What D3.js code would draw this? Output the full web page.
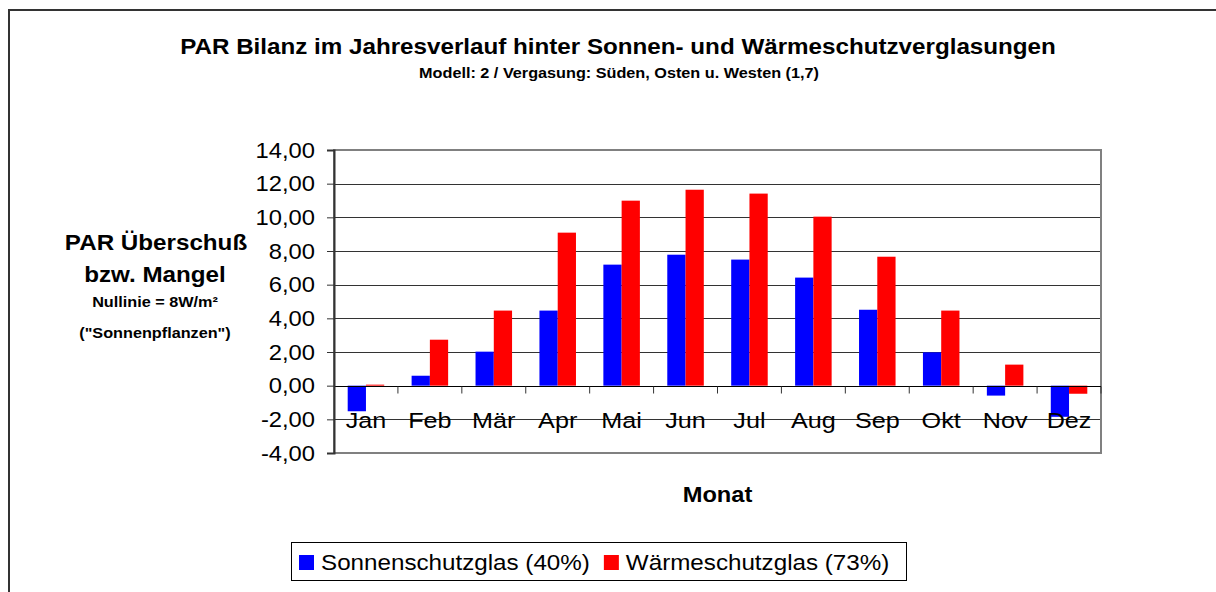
<!DOCTYPE html>
<html><head><meta charset="utf-8">
<script src="https://cdn.jsdelivr.net/npm/d3@7"></script>
<style>
html,body{margin:0;padding:0;background:#fff;overflow:hidden}
svg{display:block}
text{font-family:"Liberation Sans",Arial,Helvetica,sans-serif;fill:#000}
</style></head>
<body>
<svg id="c" width="1216" height="592"></svg>
<script>
const months = ["Jan","Feb","Mär","Apr","Mai","Jun","Jul","Aug","Sep","Okt","Nov","Dez"];
const seriesNames = ["Sonnenschutzglas (40%)","Wärmeschutzglas (73%)"];
const sonnenschutz = [-1.52, 0.59, 2.02, 4.46, 7.19, 7.78, 7.49, 6.42, 4.51, 1.98, -0.59, -1.85];
const waermeschutz = [0.06, 2.73, 4.46, 9.09, 10.99, 11.64, 11.41, 10.04, 7.66, 4.46, 1.25, -0.48];
const yTicks = [-4,-2,0,2,4,6,8,10,12,14];
const title = "PAR Bilanz im Jahresverlauf hinter Sonnen- und Wärmeschutzverglasungen";
const subtitle = "Modell: 2 / Vergasung: Süden, Osten u. Westen (1,7)";
const yTitle = ["PAR Überschuß","bzw. Mangel"];
const yNote = ["Nullinie = 8W/m²","(\"Sonnenpflanzen\")"];
const xTitle = "Monat";
const colors = ["#0000FF","#FF0000"];

const svg = d3.select("#c");
const L=334, R=1101, T=150, B=453;
const loc = d3.formatLocale({decimal:",",thousands:".",grouping:[3],currency:["","€"],minus:"-"});
const fmt = loc.format(".2f");

function txt(parent, x, y, s, size, bold, anchor, sx){
  return parent.append("text")
    .attr("transform",`translate(${x},${y}) scale(${sx},1)`)
    .attr("text-anchor",anchor||"middle")
    .attr("font-size",size)
    .attr("font-weight",bold?"bold":"normal")
    .text(s);
}

// outer frame
svg.append("rect").attr("x",9).attr("y",10).attr("width",1230).attr("height",620)
  .attr("fill","#fff").attr("stroke","#333").attr("stroke-width",2);

const y = d3.scaleLinear().domain([-4,14]).range([B,T]);
const x = d3.scaleBand().domain(months).range([L,R]).paddingInner(0).paddingOuter(0);
const xs = d3.scaleBand().domain(seriesNames).range([0,x.bandwidth()]).paddingInner(0).paddingOuter(0.75);

// gridlines
svg.append("g").selectAll("line").data(yTicks.filter(d=>d>-4 && d<14)).join("line")
  .attr("x1",L).attr("x2",R).attr("y1",d=>Math.round(y(d))+0.5).attr("y2",d=>Math.round(y(d))+0.5)
  .attr("stroke","#333").attr("stroke-width",1);

// bars
const data = months.map((m,i)=>({m, vals:[sonnenschutz[i], waermeschutz[i]]}));
const g = svg.append("g");
data.forEach(d=>{
  d.vals.forEach((v,k)=>{
    g.append("rect")
      .attr("x",x(d.m)+xs(seriesNames[k]))
      .attr("width",xs.bandwidth())
      .attr("y",y(Math.max(0,v)))
      .attr("height",Math.abs(y(v)-y(0)))
      .attr("fill",colors[k]);
  });
});

// plot border
svg.append("rect").attr("x",L).attr("y",T).attr("width",R-L).attr("height",B-T)
  .attr("fill","none").attr("stroke","#808080").attr("stroke-width",2);

// zero line + category ticks
const z = Math.round(y(0))+0.5;
svg.append("line").attr("x1",L).attr("x2",R).attr("y1",z).attr("y2",z).attr("stroke","#000").attr("stroke-width",1);
svg.append("g").selectAll("line").data(months.slice(1).concat(["__end"])).join("line")
  .attr("x1",d=>d==="__end"?R:x(d)).attr("x2",d=>d==="__end"?R:x(d))
  .attr("y1",z).attr("y2",z+7).attr("stroke","#333").attr("stroke-width",1);

// y axis
const ya = svg.append("g").attr("transform",`translate(${L},0)`)
  .call(d3.axisLeft(y).tickValues(yTicks).tickFormat(fmt).tickSize(7).tickPadding(11));
ya.select(".domain").attr("stroke","#333").attr("stroke-width",2);
ya.selectAll(".tick line").attr("stroke","#333");
ya.selectAll(".tick text").attr("font-size",22).attr("font-family",null)
  .attr("x",0).attr("transform","translate(-19,0) scale(1.08,1)")
  .style("font-family",'"Liberation Sans",Arial,sans-serif');

// category labels
const cg = svg.append("g");
months.forEach(m=>txt(cg, x(m)+x.bandwidth()/2, 428, m, 22.5, false, "middle", 1.12));

// titles
txt(svg, 618, 54, title, 22, true, "middle", 1.1);
txt(svg, 619, 78, subtitle, 14.5, true, "middle", 1.12);
txt(svg, 156, 250, yTitle[0], 22, true, "middle", 1.1);
txt(svg, 155, 282, yTitle[1], 22, true, "middle", 1.1);
txt(svg, 155, 307, yNote[0], 14.5, true, "middle", 1.12);
txt(svg, 155, 338, yNote[1], 14.5, true, "middle", 1.12);
txt(svg, (L+R)/2, 502, xTitle, 21.5, true, "middle", 1.1);

// legend
const lg = svg.append("g");
lg.append("rect").attr("x",291.5).attr("y",542.5).attr("width",615).attr("height",38)
  .attr("fill","#fff").attr("stroke","#000").attr("stroke-width",1);
let lx = 299;
seriesNames.forEach((s,k)=>{
  lg.append("rect").attr("x",lx).attr("y",555).attr("width",15).attr("height",15).attr("fill",colors[k]);
  const t = txt(lg, lx+22, 570, s, 22, false, "start", 1.1);
  lx = lx + 22 + t.node().getComputedTextLength()*1.1 + 14;
});
</script>
</body></html>
